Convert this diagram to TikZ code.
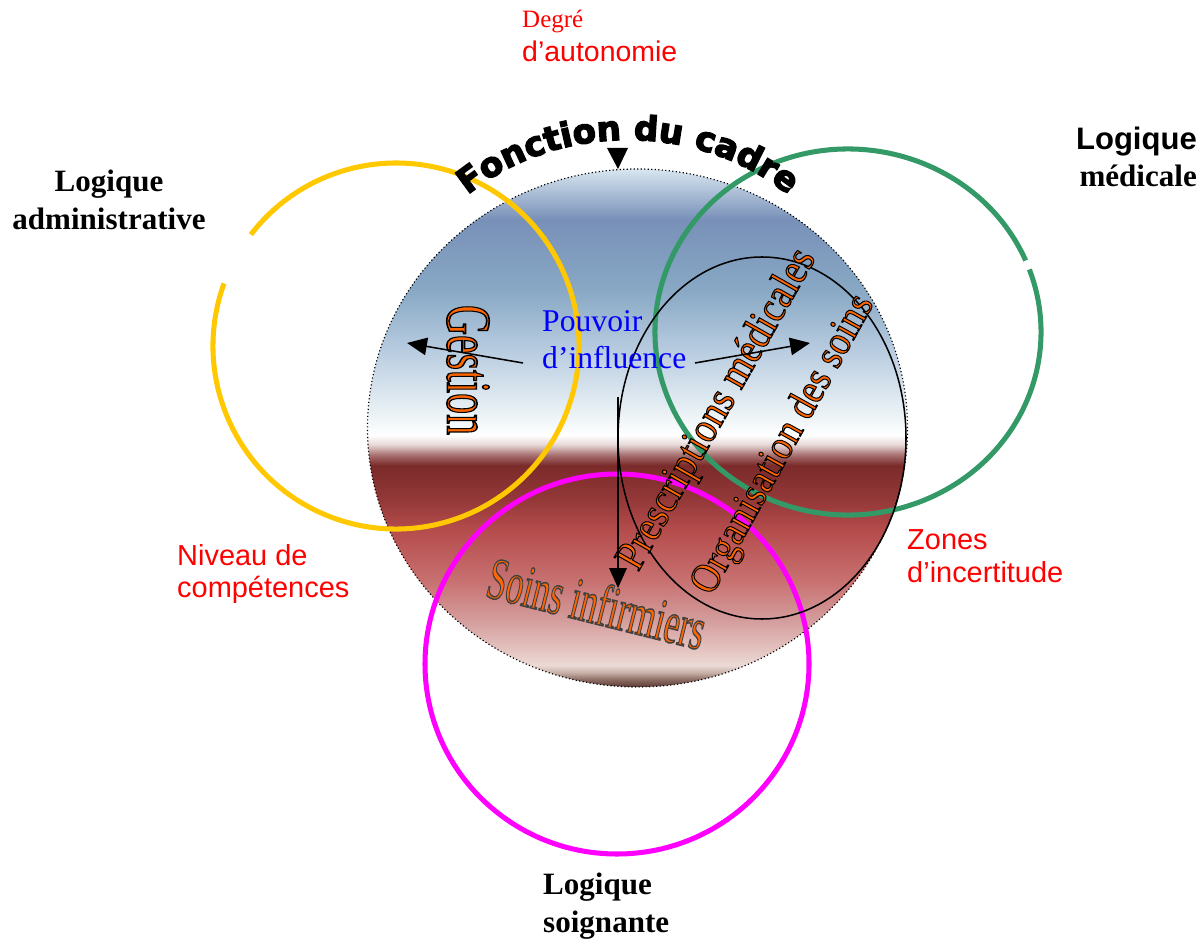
\documentclass[tikz,border=0pt]{standalone}
\usepackage{fontspec}
\setmainfont{Liberation Serif}
\setsansfont{Liberation Sans}
\newfontfamily\heavyfont{DejaVu Sans}[BoldFeatures={FakeBold=4}]
\newfontfamily\artfont{Liberation Serif}[FakeBold=2.5]
\usepackage{graphicx}
\usetikzlibrary{
  arrows.meta,
  decorations.text
}
\definecolor{cadyellow}{HTML}{FFC800}
\definecolor{cadgreen}{HTML}{339966}
\definecolor{cadmagenta}{HTML}{FF00FF}
\definecolor{cadorange}{HTML}{FF6600}
\definecolor{cadred}{HTML}{FF0000}
\definecolor{cadblue}{HTML}{0000FF}
% outline colour of the word art (stroke only)
\newcommand{\artstroke}[1]{\special{pdf:literal direct #1 RG}}
% blue sky on top, red ground below
\pgfdeclareverticalshading{cadregrad}{100bp}{
  rgb(0bp)=(.353,.227,.196); rgb(25bp)=(.353,.227,.196);
  rgb(25.7bp)=(.541,.416,.384); rgb(26.4bp)=(.784,.69,.659);
  rgb(27.1bp)=(.925,.855,.839); rgb(28.6bp)=(.894,.769,.753);
  rgb(31.5bp)=(.831,.612,.612); rgb(35.3bp)=(.784,.439,.439);
  rgb(40.2bp)=(.71,.298,.298); rgb(43.1bp)=(.58,.22,.22);
  rgb(46.4bp)=(.482,.165,.165); rgb(47.4bp)=(.659,.439,.439);
  rgb(48.4bp)=(.91,.847,.847); rgb(49.3bp)=(1,1,1);
  rgb(51.7bp)=(.91,.941,.957); rgb(57.5bp)=(.722,.8,.878);
  rgb(63.3bp)=(.533,.659,.769); rgb(70.1bp)=(.471,.565,.722);
  rgb(75bp)=(.847,.902,.941); rgb(100bp)=(.847,.902,.941)}
\tikzset{
  ring/.style={line width=4.3pt},
  logique/.style={
    inner sep=0pt, font=\bfseries\fontsize{26.5}{32}\selectfont
  },
  redlbl/.style={
    inner sep=0pt, text=cadred, align=left,
    font=\sffamily\fontsize{24.7}{28}\selectfont
  },
  wordart/.style={inner sep=0pt},
  arrow/.style={-{Triangle[length=17pt,width=15pt]}, line width=1.3pt}
}
\begin{document}
\begin{tikzpicture}[x=0.03cm, y=0.03cm]
  \useasboundingbox (0,0) rectangle (1204,940);

  % Fonction du cadre: big shaded disc
  \shadedraw[shading=cadregrad, dotted, line width=1pt]
    (637.5,512) ellipse [x radius=270, y radius=259];

  % The three logics
  \draw[ring, cadyellow] (396,594) ++(160:183)
    arc[start angle=160, end angle=502.5, radius=183];
  \draw[ring, cadgreen] (848,608) ++(23:193 and 183)
    arc[start angle=23, end angle=380, x radius=193, y radius=183];
  \draw[ring, cadmagenta] (617,276) ellipse [x radius=192, y radius=190];
  \draw[line width=1.3pt] (762,502) ellipse [x radius=144, y radius=181];

  % Marker and arched title
  \fill (607,792) -- (628,792) -- (618,771) -- cycle;
  \path[decorate, decoration={text along path, text align=center,
      text={|\heavyfont\bfseries\fontsize{29}{29}\selectfont|Fonction du cadre}}]
    (448,726.8) arc[start angle=140, end angle=40, x radius=235, y radius=205];

  % Labels
  \node[anchor=base west, inner sep=0pt, text=cadred,
        font=\fontsize{21.3}{24}\selectfont] (degre) at (522,912) {Degré};
  \node[anchor=base west, inner sep=0pt, text=cadred,
        font=\sffamily\fontsize{24.3}{28}\selectfont]
    (autonomie) at (522,878) {d’autonomie};
  \node[logique, align=center] (logadmin) at (109,740)
    {Logique\\administrative};
  \node[logique, align=right, anchor=east] (logmed) at (1197,783)
    {{\sffamily Logique}\\médicale};
  \node[logique, align=left, anchor=west] (logsoin) at (543,34)
    {Logique\\soignante};
  \node[redlbl, anchor=west] (niveau) at (177,366)
    {Niveau de\\compétences};
  \node[redlbl, anchor=west] (zones) at (907,383.5)
    {Zones\\d’incertitude};
  \node[inner sep=0pt, anchor=west, align=left, text=cadblue,
        font=\fontsize{27}{31.5}\selectfont] (pouvoir) at (542,600.5)
    {Pouvoir\\d’influence};

  % Word art inside the disc
  \node[wordart, rotate=-90] (gestion) at (468,570)
    {\scalebox{0.66}[1]{\artfont\fontsize{54}{54}\selectfont
      \color{cadorange}\artstroke{0 0 0}Gestion}};
  \node[wordart, rotate=60.5] (prescr) at (718,530)
    {\scalebox{0.88}[1]{\artfont\fontsize{37}{37}\selectfont
      \color{cadorange}\artstroke{0 0 0}Prescriptions médicales}};
  \node[wordart, rotate=61] (orga) at (784,495)
    {\scalebox{0.88}[1]{\artfont\fontsize{36}{36}\selectfont
      \color{cadorange}\artstroke{0 0 0}Organisation des soins}};
  \node[wordart, rotate=-14] (soins) at (597,337)
    {\scalebox{0.58}[1]{\artfont\fontsize{51}{51}\selectfont
      \color{cadorange}\artstroke{.25 .25 .25}Soins infirmiers}};

  % Influence arrows
  \coordinate (infl w) at (523,577);
  \coordinate (infl e) at (695,577);
  \coordinate (infl s) at (618,543);
  \coordinate (to gest) at (407,597);
  \coordinate (to med) at (810,597);
  \coordinate (to soins) at (618,352);
  \draw[arrow] (infl w) -- (to gest);
  \draw[arrow] (infl e) -- (to med);
  \draw[arrow] (infl s) -- (to soins);
\end{tikzpicture}
\end{document}
